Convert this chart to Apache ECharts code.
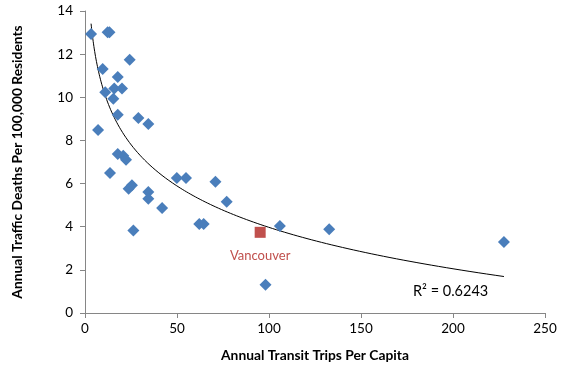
<!DOCTYPE html>
<html>
<head>
<meta charset="utf-8">
<script src="https://cdn.jsdelivr.net/npm/echarts@6/dist/echarts.min.js"></script>
<style>html,body{margin:0;padding:0;background:#fff}#c{width:577px;height:374px}</style>
</head>
<body>
<div id="c"></div>
<script>
// Transit trips per capita (x) and traffic deaths per 100,000 (y)
var cityTrips = [3.3, 12.3, 13.3, 24.3, 9.6, 17.8, 11.0, 15.9, 20.1, 15.4, 17.8, 29.0, 34.4, 7.1, 17.8, 20.8, 22.3, 13.6, 23.7, 25.5, 26.3, 34.4, 34.4, 41.9, 49.9, 54.9, 62.1, 64.5, 70.9, 77.0, 105.9, 132.7, 227.7, 98.1];
var cityDeaths = [12.93, 13.02, 13.02, 11.74, 11.31, 10.94, 10.23, 10.41, 10.41, 9.93, 9.19, 9.04, 8.76, 8.48, 7.37, 7.29, 7.11, 6.49, 5.76, 5.92, 3.83, 5.61, 5.30, 4.87, 6.26, 6.26, 4.13, 4.13, 6.09, 5.16, 4.03, 3.88, 3.29, 1.31];
var vancouverTrips = [95.2];
var vancouverDeaths = [3.74];
var xTicks = [0, 50, 100, 150, 200, 250];
var yTicks = [0, 2, 4, 6, 8, 10, 12, 14];
var r2Label = 'R² = 0.6243';

// Logarithmic least-squares trendline through the city points (as Excel does)
var n = cityTrips.length, sx = 0, sy = 0, sxx = 0, sxy = 0;
for (var i = 0; i < n; i++) {
  var lx = Math.log(cityTrips[i]);
  sx += lx; sy += cityDeaths[i]; sxx += lx * lx; sxy += lx * cityDeaths[i];
}
var slope = (n * sxy - sx * sy) / (n * sxx - sx * sx);
var icpt = (sy - slope * sx) / n;
var xMin = Math.min.apply(null, cityTrips), xMax = Math.max.apply(null, cityTrips);
var trend = [];
for (var k = 0; k <= 200; k++) {
  var xv = xMin * Math.pow(xMax / xMin, k / 200);
  trend.push([xv, icpt + slope * Math.log(xv)]);
}

var cityData = cityTrips.map(function (x, i) { return [x, cityDeaths[i]]; });
var vanData = vancouverTrips.map(function (x, i) { return [x, vancouverDeaths[i]]; });

var font = 'Lato, "Open Sans", sans-serif';
var chart = echarts.init(document.getElementById('c'), null, {renderer: 'canvas'});
chart.setOption({
  animation: false,
  backgroundColor: '#fff',
  grid: {left: 85, right: 32, top: 11, bottom: 61},
  xAxis: {
    type: 'value', min: xTicks[0], max: xTicks[xTicks.length - 1], interval: 50,
    name: 'Annual Transit Trips Per Capita', nameLocation: 'middle', nameGap: 36,
    nameTextStyle: {fontFamily: font, fontWeight: 'bold', fontSize: 13.8, color: '#000'},
    axisLine: {lineStyle: {color: '#868686', width: 1}},
    axisTick: {show: true, length: 5, lineStyle: {color: '#868686'}},
    axisLabel: {fontFamily: font, fontSize: 13.5, color: '#000', margin: 9},
    splitLine: {show: false}
  },
  yAxis: {
    type: 'value', min: yTicks[0], max: yTicks[yTicks.length - 1], interval: 2,
    name: 'Annual Traffic Deaths Per 100,000 Residents', nameLocation: 'middle', nameGap: 60,
    nameTextStyle: {fontFamily: font, fontWeight: 'bold', fontSize: 13.8, color: '#000'},
    axisLine: {show: true, lineStyle: {color: '#868686', width: 1}},
    axisTick: {show: true, length: 5, lineStyle: {color: '#868686'}},
    axisLabel: {fontFamily: font, fontSize: 13.5, color: '#000', margin: 12},
    splitLine: {show: false}
  },
  series: [
    {
      type: 'line', data: trend, showSymbol: false, symbol: 'none', silent: true,
      lineStyle: {color: '#000', width: 1}, z: 1
    },
    {
      type: 'scatter', data: cityData, symbol: 'diamond', symbolSize: [12, 12],
      itemStyle: {color: '#4A7EBB', opacity: 1}, z: 3
    },
    {
      type: 'scatter', data: vanData, symbol: 'rect', symbolSize: [11, 11],
      itemStyle: {color: '#C0504D', opacity: 1}, z: 4,
      label: {show: true, formatter: 'Vancouver', position: 'bottom', distance: 11,
        color: '#C0504D', fontFamily: font, fontSize: 13}
    }
  ],
  graphic: [{
    type: 'text', left: 413, top: 284,
    style: {text: r2Label, fontFamily: font, fontSize: 14.5, fill: '#000'}
  }]
});
</script>
</body>
</html>
